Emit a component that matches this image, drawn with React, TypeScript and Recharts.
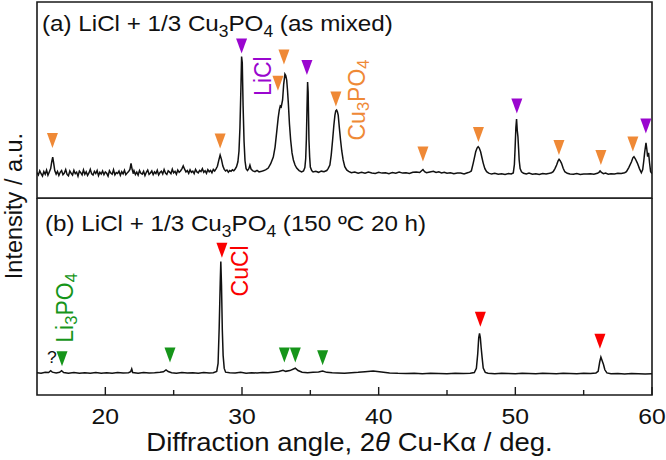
import { ComposedChart, Line, Scatter, XAxis, YAxis, ReferenceArea, ReferenceDot } from 'recharts'

const FONT = '"Liberation Sans", Arial, Helvetica, sans-serif'
const ORANGE = '#ef8936'
const PURPLE = '#9a06cf'
const RED = '#fa0000'
const GREEN = '#16951a'
// the lettering in this figure runs a little wide
const WIDE = 1.1

const angleTicks = [20, 25, 30, 35, 40, 45, 50, 55, 60]

// (a) as mixed: [2θ, counts]
const scanMixed: [number, number][] = [
  [15.0, 130], [15.1, 118], [15.2, 139], [15.3, 124], [15.4, 112], [15.5, 135], [15.6, 121], [15.7, 142], [15.8, 116], [15.9, 133],
  [16.0, 150], [16.08, 185], [16.15, 209], [16.22, 178], [16.3, 140], [16.4, 122], [16.5, 136], [16.6, 115], [16.7, 131], [16.8, 140],
  [16.9, 119], [17.0, 127], [17.1, 145], [17.2, 120], [17.3, 113], [17.4, 138], [17.5, 126], [17.6, 117], [17.7, 141], [17.8, 124],
  [17.9, 132], [18.0, 111], [18.1, 137], [18.2, 129], [18.3, 118], [18.4, 143], [18.5, 121], [18.6, 134], [18.7, 115], [18.8, 128],
  [18.9, 146], [19.0, 123], [19.1, 117], [19.2, 136], [19.3, 125], [19.4, 140], [19.5, 114], [19.6, 131], [19.7, 122], [19.8, 138],
  [19.9, 119], [20.0, 133], [20.1, 126], [20.2, 112], [20.3, 139], [20.4, 127], [20.5, 121], [20.6, 144], [20.7, 118], [20.8, 130],
  [20.9, 125], [21.0, 137], [21.1, 116], [21.2, 134], [21.3, 123], [21.4, 141], [21.5, 119], [21.6, 128], [21.7, 135], [21.8, 146],
  [21.88, 176], [21.95, 150], [22.05, 124], [22.1, 139], [22.2, 120], [22.3, 132], [22.4, 117], [22.5, 140], [22.6, 126], [22.7, 122],
  [22.8, 136], [22.9, 114], [23.0, 131], [23.1, 143], [23.2, 121], [23.3, 128], [23.4, 138], [23.5, 119], [23.6, 133], [23.7, 125],
  [23.8, 142], [23.9, 118], [24.0, 130], [24.1, 137], [24.2, 123], [24.3, 145], [24.4, 127], [24.5, 120], [24.6, 139], [24.7, 132],
  [24.8, 124], [24.9, 147], [25.0, 128], [25.1, 136], [25.2, 121], [25.3, 143], [25.4, 131], [25.5, 138], [25.6, 149], [25.7, 164],
  [25.8, 147], [25.9, 133], [26.0, 140], [26.1, 126], [26.2, 144], [26.3, 131], [26.4, 137], [26.5, 124], [26.6, 146], [26.7, 133],
  [26.8, 128], [26.9, 141], [27.0, 135], [27.1, 150], [27.2, 131], [27.3, 139], [27.4, 126], [27.5, 145], [27.6, 134], [27.7, 141],
  [27.8, 129], [27.9, 146], [28.0, 138], [28.1, 149], [28.2, 162], [28.3, 192], [28.4, 219], [28.5, 196], [28.6, 163], [28.7, 146],
  [28.8, 138], [28.9, 143], [29.0, 132], [29.1, 140], [29.2, 136], [29.3, 144], [29.4, 139], [29.5, 148], [29.6, 160], [29.7, 185],
  [29.78, 240], [29.85, 360], [29.92, 560], [29.97, 722], [30.02, 690], [30.08, 470], [30.15, 290], [30.22, 190], [30.3, 150], [30.4, 140],
  [30.5, 150], [30.58, 168], [30.66, 148], [30.8, 138], [30.95, 134], [31.1, 141], [31.25, 133], [31.44, 136], [31.6, 140], [31.75, 145],
  [31.92, 153], [32.1, 175], [32.29, 209], [32.42, 260], [32.53, 331], [32.65, 410], [32.73, 449], [32.8, 470], [32.87, 465], [32.97, 500],
  [33.05, 580], [33.14, 632], [33.2, 625], [33.27, 602], [33.33, 550], [33.39, 484], [33.47, 380], [33.56, 296], [33.66, 230], [33.76, 194],
  [33.88, 168], [34.0, 153], [34.18, 140], [34.36, 133], [34.5, 138], [34.6, 155], [34.66, 200], [34.71, 300], [34.76, 470], [34.8, 592],
  [34.84, 540], [34.9, 296], [34.95, 210], [35.0, 158], [35.1, 140], [35.2, 133], [35.4, 136], [35.6, 131], [35.8, 137], [36.0, 134],
  [36.2, 140], [36.3, 150], [36.43, 168], [36.53, 220], [36.63, 296], [36.72, 370], [36.8, 423], [36.86, 445], [36.92, 449], [36.98, 440],
  [37.04, 423], [37.12, 360], [37.21, 296], [37.3, 240], [37.4, 194], [37.52, 160], [37.66, 143], [37.8, 136], [38.0, 129], [38.25, 133],
  [38.5, 127], [38.75, 131], [39.0, 126], [39.25, 132], [39.5, 128], [39.75, 125], [40.0, 131], [40.25, 127], [40.5, 129], [40.75, 124],
  [41.0, 130], [41.25, 126], [41.5, 132], [41.75, 127], [42.0, 129], [42.25, 125], [42.5, 131], [42.75, 133], [43.0, 130], [43.12, 138],
  [43.24, 145], [43.36, 134], [43.5, 129], [43.75, 133], [44.0, 136], [44.2, 130], [44.4, 134], [44.6, 128], [44.8, 131], [45.0, 126],
  [45.25, 129], [45.5, 124], [45.75, 128], [46.0, 127], [46.25, 123], [46.5, 129], [46.65, 132], [46.78, 138], [46.92, 178], [47.02, 210],
  [47.1, 236], [47.2, 255], [47.28, 262], [47.36, 255], [47.46, 236], [47.55, 208], [47.65, 178], [47.77, 150], [47.9, 134], [48.05, 127],
  [48.26, 122], [48.5, 126], [48.75, 121], [49.0, 124], [49.25, 120], [49.5, 125], [49.7, 123], [49.85, 128], [49.93, 170], [49.98, 250],
  [50.04, 360], [50.09, 403], [50.14, 345], [50.19, 313], [50.24, 250], [50.28, 194], [50.35, 150], [50.45, 134], [50.6, 126], [50.8, 123],
  [51.0, 127], [51.25, 121], [51.5, 124], [51.75, 120], [52.0, 125], [52.25, 122], [52.5, 126], [52.65, 129], [52.77, 134], [52.9, 150],
  [53.02, 168], [53.12, 188], [53.2, 197], [53.28, 190], [53.38, 177], [53.5, 152], [53.62, 134], [53.8, 126], [54.0, 123], [54.25, 121],
  [54.5, 125], [54.75, 120], [55.0, 123], [55.25, 122], [55.5, 124], [55.75, 121], [56.0, 126], [56.12, 131], [56.2, 138], [56.3, 130],
  [56.45, 124], [56.6, 127], [56.8, 121], [57.0, 124], [57.25, 122], [57.5, 126], [57.75, 125], [58.0, 129], [58.13, 134], [58.3, 155],
  [58.5, 185], [58.6, 205], [58.68, 211], [58.78, 200], [58.93, 178], [59.08, 150], [59.22, 129], [59.32, 145], [59.4, 190], [59.46, 230],
  [59.56, 282], [59.62, 250], [59.68, 211], [59.75, 230], [59.82, 180], [59.9, 134], [60.0, 125],
]

// (b) after 150 ºC, 20 h
const scanHeated: [number, number][] = [
  [15.0, 113], [15.3, 110], [15.6, 115], [15.85, 114], [16.0, 123], [16.12, 116], [16.4, 112], [16.65, 115], [16.8, 123], [16.95, 114],
  [17.3, 111], [17.7, 114], [18.1, 110], [18.5, 113], [18.9, 111], [19.3, 114], [19.7, 110], [20.1, 113], [20.5, 111], [20.9, 114],
  [21.3, 112], [21.7, 113], [21.85, 118], [21.93, 132], [22.0, 114], [22.4, 111], [22.8, 114], [23.2, 112], [23.6, 113], [24.0, 115],
  [24.25, 118], [24.44, 127], [24.6, 119], [24.85, 113], [25.2, 111], [25.6, 114], [26.0, 112], [26.4, 113], [26.8, 111], [27.2, 114],
  [27.6, 112], [27.9, 113], [28.15, 120], [28.25, 160], [28.33, 340], [28.41, 580], [28.45, 677], [28.5, 560], [28.56, 330], [28.62, 200],
  [28.7, 135], [28.8, 116], [29.1, 113], [29.5, 112], [29.9, 115], [30.3, 111], [30.7, 113], [31.1, 112], [31.5, 114], [31.9, 113],
  [32.3, 116], [32.7, 119], [33.0, 125], [33.2, 120], [33.5, 124], [33.9, 136], [34.1, 124], [34.4, 116], [34.8, 113], [35.2, 115],
  [35.6, 117], [35.9, 122], [36.2, 115], [36.6, 113], [37.0, 112], [37.5, 111], [38.0, 113], [38.5, 115], [39.0, 118], [39.6, 122],
  [40.2, 117], [40.8, 112], [41.4, 110], [42.0, 109], [42.6, 110], [43.2, 108], [43.8, 110], [44.4, 109], [45.0, 108], [45.6, 110],
  [46.2, 109], [46.7, 110], [47.0, 114], [47.15, 135], [47.25, 210], [47.32, 290], [47.38, 313], [47.44, 290], [47.5, 240], [47.57, 190],
  [47.65, 137], [47.8, 115], [48.0, 110], [48.5, 108], [49.0, 110], [49.5, 109], [50.0, 108], [50.5, 110], [51.0, 109], [51.5, 108],
  [52.0, 110], [52.5, 109], [53.0, 108], [53.5, 110], [54.0, 109], [54.5, 108], [55.0, 110], [55.5, 109], [55.9, 112], [56.06, 120],
  [56.18, 170], [56.26, 192], [56.36, 172], [56.45, 155], [56.55, 128], [56.7, 112], [57.0, 108], [57.5, 109], [58.0, 107], [58.5, 109],
  [59.0, 108], [59.5, 107], [60.0, 108],
]

// reflection markers: [2θ, marker height]
const cu3po4Marks: [number, number][] = [
  [16.13, 293], [28.4, 291], [32.63, 586], [33.07, 719], [36.87, 505], [43.24, 224], [47.3, 324], [53.19, 258], [56.26, 207], [58.6, 275],
]
const liclMarks: [number, number][] = [[29.97, 775], [34.75, 666], [50.11, 469], [59.55, 367]]
const cuclMarks: [number, number][] = [[28.53, 735], [47.44, 384], [56.19, 273]]
const li3po4Marks: [number, number][] = [[16.83, 184], [24.73, 203], [33.1, 203], [33.9, 203], [35.9, 189]]

const pts = (rows: [number, number][]) => rows.map(([x, y]) => ({ x, y }))

// stretch horizontally about x = cx
const widen = (cx: number, s = WIDE) => `matrix(${s},0,0,1,${cx * (1 - s)},0)`

type Part = [string, boolean?]
const formula = (parts: Part[], size: number) => {
  const shift = size * 0.28
  let down = false
  return parts.map(([t, sub], i) => {
    const dy = sub && !down ? shift : !sub && down ? -shift : 0
    down = !!sub
    return <tspan key={i} dy={dy} fontSize={sub ? size * 0.72 : size}>{t}</tspan>
  })
}

const DownTriangle = (p: any) => {
  const { cx, cy, fill } = p
  return <polygon points={`${cx - 5.5},${cy - 7.5} ${cx + 5.5},${cy - 7.5} ${cx},${cy + 7.5}`} fill={fill} />
}

const label = (parts: Part[], color: string, size: number, rotated: boolean) => (p: any) => {
  const { cx, cy } = p
  return (
    <text x={cx} y={cy} fill={color} fontFamily={FONT} fontSize={size}
      textAnchor={rotated ? 'middle' : 'start'}
      dominantBaseline={rotated ? 'central' : 'alphabetic'}
      transform={rotated ? `rotate(-90 ${cx} ${cy})` : widen(cx)}>
      {formula(parts, size)}
    </text>
  )
}

const angleTick = (labelled: boolean) => (p: any) => {
  const { x, y, payload } = p
  const major = payload.value % 10 === 0
  return (
    <g>
      <line x1={x} x2={x} y1={y} y2={y - (major ? 8 : 5)} stroke="#1a1a1a" strokeWidth={1.4} />
      {labelled && major && (
        <text x={x} y={y + 29} textAnchor="middle" fontFamily={FONT} fontSize={22.5} fill="#111" transform={widen(x)}>{payload.value}</text>
      )}
    </g>
  )
}

const Panel = ({ scan, height, axisHeight, labelled, children }: any) => (
  <ComposedChart width={666} height={height} margin={{ top: labelled ? 0 : 2, right: 14, bottom: labelled ? 0 : 2, left: 37 }}>
    <XAxis type="number" dataKey="x" domain={[15, 60]} ticks={angleTicks} allowDataOverflow height={axisHeight}
      axisLine={false} tickLine={false} tickSize={0} tickMargin={0} tick={angleTick(labelled)} interval={0} />
    <YAxis type="number" dataKey="y" domain={[0, 1000]} hide allowDataOverflow />
    <Line data={pts(scan)} dataKey="y" stroke="#111" strokeWidth={1.5} dot={false} isAnimationActive={false} />
    {children}
    <ReferenceArea x1={15} x2={60} y1={0} y2={1000} fill="none" fillOpacity={0} stroke="#1a1a1a" strokeWidth={1.6} ifOverflow="visible" />
  </ComposedChart>
)

const marks = (rows: [number, number][], color: string) => (
  <Scatter data={pts(rows)} dataKey="y" fill={color} shape={DownTriangle} isAnimationActive={false} />
)

export default function App() {
  return (
    <div style={{ position: 'absolute', left: 0, top: 0, width: 666, height: 460, background: '#fff', fontFamily: FONT }}>
      <div style={{ position: 'absolute', left: 0, top: 0 }}>
        <Panel scan={scanMixed} height={200} axisHeight={0} labelled={false}>
          {marks(cu3po4Marks, ORANGE)}
          {marks(liclMarks, PURPLE)}
          <ReferenceDot x={15.37} y={852} r={0} ifOverflow="visible"
            shape={label([['(a) LiCl + 1/3 Cu'], ['3', true], ['PO'], ['4', true], [' (as mixed)']], '#111', 22, false)} />
          <ReferenceDot x={31.53} y={622} r={0} ifOverflow="visible" shape={label([['LiCl']], PURPLE, 23, true)} />
          <ReferenceDot x={38.41} y={500} r={0} ifOverflow="visible"
            shape={label([['Cu'], ['3', true], ['PO'], ['4', true]], ORANGE, 23, true)} />
        </Panel>
      </div>
      <div style={{ position: 'absolute', left: 0, top: 198 }}>
        <Panel scan={scanHeated} height={262} axisHeight={65} labelled>
          {marks(cuclMarks, RED)}
          {marks(li3po4Marks, GREEN)}
          <ReferenceDot x={15.59} y={833} r={0} ifOverflow="visible"
            shape={label([['(b) LiCl + 1/3 Cu'], ['3', true], ['PO'], ['4', true], [' (150 ºC 20 h)']], '#111', 22, false)} />
          <ReferenceDot x={29.85} y={630} r={0} ifOverflow="visible" shape={label([['CuCl']], RED, 23, true)} />
          <ReferenceDot x={17.05} y={442} r={0} ifOverflow="visible"
            shape={label([['Li'], ['3', true], ['PO'], ['4', true]], GREEN, 23, true)} />
          <ReferenceDot x={15.73} y={163} r={0} ifOverflow="visible" shape={label([['?']], '#111', 16, false)} />
        </Panel>
      </div>
      <div style={{ position: 'absolute', left: -136, top: 192, width: 300, height: 28, lineHeight: '28px', textAlign: 'center', fontSize: 23.5, color: '#111', transform: 'rotate(-90deg)' }}>
        Intensity / a.u.
      </div>
      <div style={{ position: 'absolute', left: 42, top: 430, width: 615, height: 25, lineHeight: '25px', textAlign: 'center', fontSize: 25, color: '#111', transform: `scaleX(${WIDE})` }}>
        Diffraction angle, 2<i>θ</i> Cu-Kα / deg.
      </div>
    </div>
  )
}
